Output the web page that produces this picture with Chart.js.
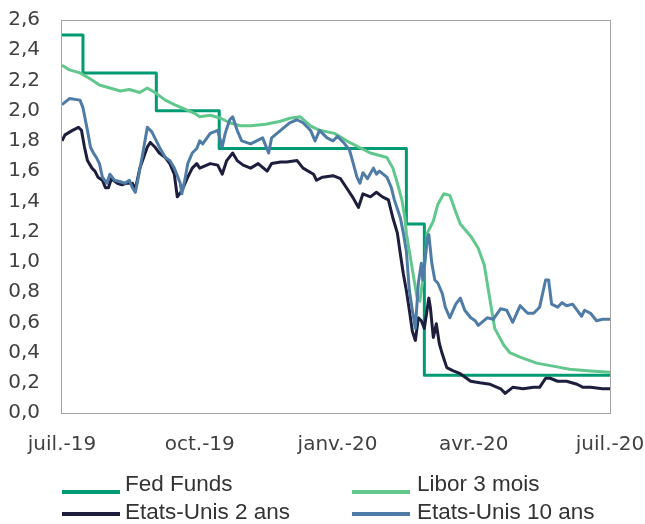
<!DOCTYPE html>
<html>
<head>
<meta charset="utf-8">
<script src="https://cdn.jsdelivr.net/npm/chart.js@4/dist/chart.umd.min.js"></script>
<style>
    body { margin: 0; background: #fff; }
    #wrap { position: relative; width: 645px; height: 524px; }
    #rates { position: absolute; left: 0; top: 0; }
    #legend { position: absolute; left: 0; top: 0; width: 645px; height: 524px; pointer-events: none; }
    .swatch { position: absolute; width: 58px; height: 4px; }
    .label { position: absolute; font: 22.5px "Liberation Sans", Arial, sans-serif; line-height: 1; color: #333; white-space: nowrap; }
</style>
</head>
<body>
<div id="wrap">
    <canvas id="rates" width="645" height="524"></canvas>
    <div id="legend"></div>
</div>
<script>
// day 0 = 17 juillet 2019
const START = '2019-07-17';

const tickDates = ['2019-07-17', '2019-10-17', '2020-01-17', '2020-04-17', '2020-07-17'];
const tickLabels = ['juil.-19', 'oct.-19', 'janv.-20', 'avr.-20', 'juil.-20'];

// Fed Funds (borne haute), dates de changement
const fedDates = ['2019-07-17', '2019-07-31', '2019-09-18', '2019-10-30', '2020-03-03', '2020-03-15', '2020-07-17'];
const fedRates = [2.50, 2.25, 2.00, 1.75, 1.25, 0.25, 0.25];

// Libor 3 mois
const liborDays = [0, 5, 12, 19, 25, 32, 39, 45, 52, 57, 62, 69, 75, 82, 89, 92, 99, 106, 112, 119,
    126, 136, 146, 152, 159, 166, 172, 182, 192, 206, 217, 221, 224, 227, 229, 230, 234, 237, 239, 242,
    244, 248, 251, 255, 259, 263, 266, 273, 278, 282, 286, 289, 295, 299, 306, 317, 328, 339, 351, 366];
const libor = [2.30, 2.27, 2.25, 2.21, 2.17, 2.15, 2.13, 2.14, 2.12, 2.15, 2.12, 2.07, 2.04, 2.01, 1.98, 1.96, 1.97, 1.95, 1.92, 1.90,
    1.90, 1.91, 1.93, 1.95, 1.96, 1.90, 1.87, 1.85, 1.79, 1.72, 1.69, 1.62, 1.52, 1.41, 1.29, 1.19, 0.95, 0.77, 0.74, 0.95,
    1.19, 1.27, 1.38, 1.45, 1.44, 1.33, 1.25, 1.17, 1.09, 0.98, 0.74, 0.56, 0.45, 0.40, 0.37, 0.33, 0.31, 0.29, 0.28, 0.27];

// Etats-Unis 2 ans
const us2Days = [0, 2, 7, 11, 13, 15, 17, 20, 22, 24, 27, 29, 31, 33, 37, 40, 43, 47, 49, 52,
    57, 59, 62, 65, 69, 72, 75, 77, 80, 84, 87, 90, 92, 99, 104, 107, 110, 114, 117, 121,
    126, 131, 137, 140, 146, 150, 157, 161, 168, 170, 174, 181, 186, 190, 194, 198, 201, 206, 210, 214,
    218, 221, 224, 226, 228, 230, 232, 234, 236, 238, 240, 242, 245, 246, 248, 250, 252, 254, 257, 261,
    266, 273, 279, 286, 293, 296, 301, 308, 315, 319, 323, 326, 331, 337, 344, 348, 353, 361, 366];
const us2 = [1.80, 1.84, 1.87, 1.89, 1.87, 1.76, 1.67, 1.62, 1.60, 1.56, 1.54, 1.49, 1.49, 1.55, 1.52, 1.51, 1.52, 1.52, 1.48, 1.62,
    1.76, 1.79, 1.76, 1.72, 1.69, 1.65, 1.58, 1.43, 1.47, 1.56, 1.62, 1.65, 1.62, 1.65, 1.64, 1.58, 1.67, 1.72, 1.67, 1.64,
    1.62, 1.65, 1.60, 1.65, 1.66, 1.66, 1.67, 1.62, 1.58, 1.54, 1.56, 1.57, 1.55, 1.49, 1.43, 1.36, 1.45, 1.43, 1.46, 1.43,
    1.41, 1.29, 1.19, 1.05, 0.92, 0.81, 0.68, 0.54, 0.48, 0.63, 0.61, 0.56, 0.76, 0.70, 0.50, 0.59, 0.46, 0.39, 0.30, 0.28,
    0.26, 0.21, 0.20, 0.19, 0.16, 0.13, 0.17, 0.16, 0.17, 0.17, 0.23, 0.23, 0.21, 0.21, 0.19, 0.17, 0.17, 0.16, 0.16];

// Etats-Unis 10 ans
const us10Days = [0, 5, 12, 14, 17, 19, 21, 23, 25, 27, 30, 32, 35, 39, 42, 45, 47, 49, 51, 54,
    57, 60, 63, 65, 69, 72, 75, 79, 80, 82, 84, 87, 90, 92, 94, 99, 104, 107, 109, 112,
    114, 117, 120, 126, 130, 134, 138, 140, 146, 152, 157, 161, 166, 169, 172, 177, 181, 184, 188, 192,
    194, 197, 199, 201, 204, 208, 210, 212, 217, 220, 222, 226, 228, 230, 232, 234, 236, 238, 240, 241,
    244, 245, 247, 249, 251, 254, 256, 259, 263, 266, 269, 273, 276, 278, 284, 288, 293, 297, 301, 306,
    311, 315, 319, 323, 325, 327, 331, 334, 337, 341, 344, 347, 349, 353, 357, 361, 366];
const us10 = [2.04, 2.08, 2.07, 2.02, 1.87, 1.76, 1.72, 1.69, 1.65, 1.56, 1.52, 1.58, 1.54, 1.53, 1.52, 1.54, 1.49, 1.46, 1.56, 1.72,
    1.89, 1.86, 1.80, 1.76, 1.69, 1.67, 1.62, 1.52, 1.45, 1.54, 1.65, 1.72, 1.75, 1.80, 1.78, 1.85, 1.87, 1.76, 1.85, 1.94,
    1.96, 1.87, 1.80, 1.78, 1.80, 1.82, 1.72, 1.82, 1.87, 1.92, 1.94, 1.92, 1.87, 1.80, 1.87, 1.82, 1.80, 1.83, 1.79, 1.74,
    1.67, 1.56, 1.52, 1.59, 1.55, 1.62, 1.58, 1.60, 1.56, 1.49, 1.41, 1.29, 1.19, 1.07, 0.81, 0.68, 0.56, 0.86, 0.99, 0.88,
    1.16, 1.18, 0.99, 0.88, 0.86, 0.79, 0.70, 0.63, 0.72, 0.76, 0.68, 0.63, 0.61, 0.58, 0.63, 0.62, 0.69, 0.68, 0.60, 0.71,
    0.66, 0.66, 0.70, 0.88, 0.88, 0.72, 0.70, 0.73, 0.71, 0.72, 0.68, 0.64, 0.68, 0.66, 0.61, 0.62, 0.62];

function dayOf(d) {
    return Math.round((Date.parse(d) - Date.parse(START)) / 86400000);
}

function toPoints(days, values) {
    return days.map((d, i) => ({ x: d, y: values[i] }));
}

const tickDays = tickDates.map(dayOf);

// grey frame round the plot area
const plotFrame = {
    id: 'plotFrame',
    afterDraw(chart) {
        const { ctx, chartArea: a } = chart;
        ctx.save();
        ctx.strokeStyle = '#a3a3a3';
        ctx.lineWidth = 1;
        ctx.strokeRect(Math.round(a.left) - 0.5, Math.round(a.top) + 0.5,
            Math.round(a.right - a.left) + 1, Math.round(a.bottom - a.top));
        ctx.restore();
    }
};

// two-column legend under the chart
function buildLegend(chart) {
    const box = document.getElementById('legend');
    const cols = [{ line: 62, text: 125 }, { line: 352, text: 417 }];
    const rows = [{ line: 490, text: 473 }, { line: 512, text: 501 }];
    chart.data.datasets.forEach((ds, i) => {
        const c = cols[i % 2], r = rows[Math.floor(i / 2)];
        const sw = document.createElement('div');
        sw.className = 'swatch';
        sw.style.left = c.line + 'px';
        sw.style.top = r.line + 'px';
        sw.style.background = ds.borderColor;
        const lb = document.createElement('div');
        lb.className = 'label';
        lb.style.left = c.text + 'px';
        lb.style.top = r.text + 'px';
        lb.textContent = ds.label;
        box.appendChild(sw);
        box.appendChild(lb);
    });
}

const tickFont = { family: '"DejaVu Sans", sans-serif', size: 20 };

const chart = new Chart(document.getElementById('rates'), {
    type: 'line',
    data: {
        datasets: [
            {
                label: 'Fed Funds',
                data: toPoints(fedDates.map(dayOf), fedRates),
                borderColor: '#009b72',
                borderWidth: 3,
                stepped: true,
                order: 3
            },
            {
                label: 'Libor 3 mois',
                data: toPoints(liborDays, libor),
                borderColor: '#62c78d',
                borderWidth: 3,
                order: 2
            },
            {
                label: 'Etats-Unis 2 ans',
                data: toPoints(us2Days, us2),
                borderColor: '#1d1e3d',
                borderWidth: 3,
                order: 1
            },
            {
                label: 'Etats-Unis 10 ans',
                data: toPoints(us10Days, us10),
                borderColor: '#4f7ca6',
                borderWidth: 3,
                order: 0
            }
        ]
    },
    options: {
        responsive: false,
        animation: false,
        elements: {
            point: { radius: 0 },
            line: { tension: 0, fill: false, borderJoinStyle: 'round' }
        },
        layout: {
            padding: { left: 0, right: 35, top: 20, bottom: 47 }
        },
        plugins: {
            legend: { display: false },
            tooltip: { enabled: false }
        },
        scales: {
            x: {
                type: 'linear',
                min: 0,
                max: tickDays[tickDays.length - 1],
                grid: { display: false, drawTicks: false },
                border: { display: false },
                afterBuildTicks: (axis) => {
                    axis.ticks = tickDays.map(v => ({ value: v }));
                },
                // labels may overhang into the outer padding
                afterFit: (axis) => {
                    axis.paddingLeft = 0;
                    axis.paddingRight = 0;
                },
                ticks: {
                    padding: 20,
                    maxRotation: 0,
                    autoSkip: false,
                    color: '#404040',
                    font: tickFont,
                    callback: (v) => tickLabels[tickDays.indexOf(v)]
                }
            },
            y: {
                min: 0,
                max: 2.6,
                grid: { display: false, drawTicks: false },
                border: { display: false },
                afterFit: (axis) => {
                    axis.width = 62;
                    axis.paddingTop = 0;
                    axis.paddingBottom = 0;
                },
                ticks: {
                    stepSize: 0.2,
                    padding: 22,
                    color: '#404040',
                    font: tickFont,
                    callback: (v) => v.toFixed(1).replace('.', ',')
                }
            }
        }
    },
    plugins: [plotFrame]
});

buildLegend(chart);
</script>
</body>
</html>
